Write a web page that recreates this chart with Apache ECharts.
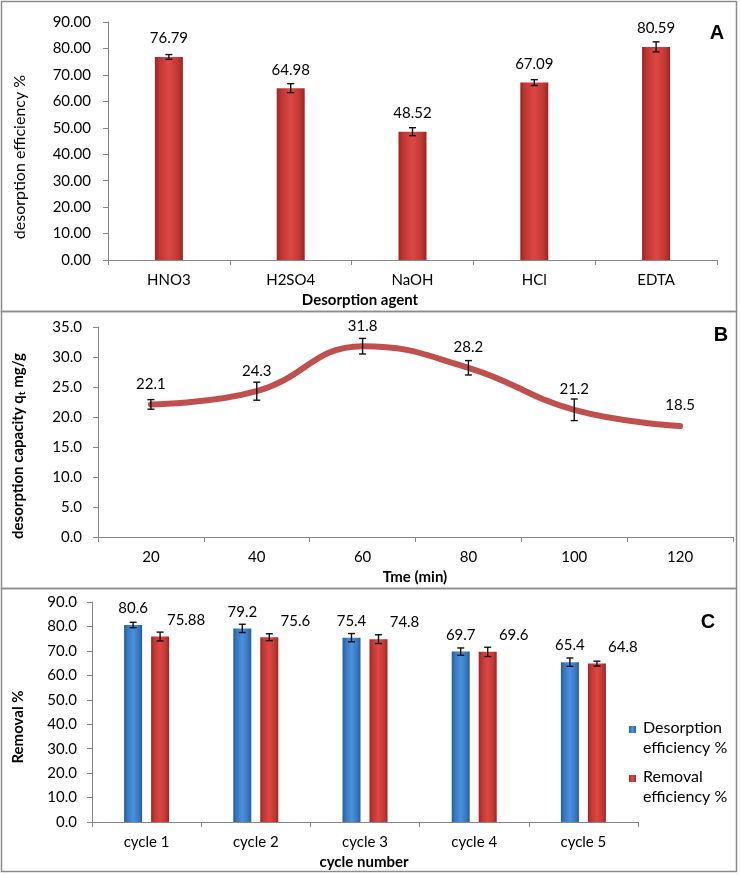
<!DOCTYPE html>
<html><head><meta charset="utf-8">
<script src="https://cdn.jsdelivr.net/npm/echarts@6/dist/echarts.min.js"></script>
<style>html,body{margin:0;padding:0;background:#fff}#c{width:740px;height:875px}</style>
</head><body><div id="c"></div>
<script>
// Panel A
const agentCategories = ['HNO3', 'H2SO4', 'NaOH', 'HCl', 'EDTA'];
const agentEfficiency = [76.79, 64.98, 48.52, 67.09, 80.59];
const agentError = [0.9, 1.7, 1.5, 1.1, 1.9];
// Panel B
const timeCategories = ['20', '40', '60', '80', '100', '120'];
const capacity = [22.1, 24.3, 31.8, 28.2, 21.2, 18.5];
const capacityError = [0.8, 1.5, 1.3, 1.2, 1.8, 0];
// Panel C
const cycleCategories = ['cycle 1', 'cycle 2', 'cycle 3', 'cycle 4', 'cycle 5'];
const desorptionEff = [80.6, 79.2, 75.4, 69.7, 65.4];
const desorptionErr = [1.1, 1.7, 1.7, 1.5, 1.7];
const removalEff = [75.88, 75.6, 74.8, 69.6, 64.8];
const removalErr = [1.8, 1.4, 1.8, 1.9, 1.0];
const seriesNames = ['Desorption efficiency %', 'Removal efficiency %'];

const FONT = 'Lato';
const AX = '#868686';
const C_BAR_W = 18;

function redGrad() {
  return new echarts.graphic.LinearGradient(0, 0, 1, 0, [
    {offset: 0, color: '#9A2523'}, {offset: 0.18, color: '#C23733'},
    {offset: 0.5, color: '#DB4844'}, {offset: 0.82, color: '#C23733'}, {offset: 1, color: '#9A2523'}]);
}
function blueGrad() {
  return new echarts.graphic.LinearGradient(0, 0, 1, 0, [
    {offset: 0, color: '#265D9C'}, {offset: 0.18, color: '#3777C0'},
    {offset: 0.5, color: '#4C91DC'}, {offset: 0.82, color: '#3777C0'}, {offset: 1, color: '#265D9C'}]);
}

function errSeries(xi, yi, vals, errs, offset) {
  return {
    type: 'custom', xAxisIndex: xi, yAxisIndex: yi, z: 10, silent: true,
    data: vals.map((v, i) => [i, v, errs[i]]),
    renderItem: function (params, api) {
      const i = api.value(0), v = api.value(1), e = api.value(2);
      if (!e) return null;
      const t = api.coord([i, v + e]), b = api.coord([i, v - e]);
      const x = t[0] + offset;
      const st = {stroke: '#111', lineWidth: 1.4};
      return {type: 'group', children: [
        {type: 'line', shape: {x1: x, y1: t[1], x2: x, y2: b[1]}, style: st},
        {type: 'line', shape: {x1: x - 3.5, y1: t[1], x2: x + 3.5, y2: t[1]}, style: st},
        {type: 'line', shape: {x1: x - 3.5, y1: b[1], x2: x + 3.5, y2: b[1]}, style: st}
      ]};
    }
  };
}

function yAx(gi, max, interval, dec, margin) {
  return {
    gridIndex: gi, type: 'value', min: 0, max: max, interval: interval,
    axisLine: {show: true, lineStyle: {color: AX}},
    axisTick: {show: true, length: 5, lineStyle: {color: AX}},
    splitLine: {show: false},
    axisLabel: {color: '#000', fontFamily: FONT, fontSize: 15, margin: margin,
      formatter: v => v.toFixed(dec)}
  };
}
function xAx(gi, cats) {
  return {
    gridIndex: gi, type: 'category', data: cats,
    axisLine: {show: true, lineStyle: {color: AX}},
    axisTick: {show: true, length: 5, lineStyle: {color: AX}},
    axisLabel: {color: '#000', fontFamily: FONT, fontSize: 15, margin: 13, interval: 0}
  };
}
const lbl = {show: true, position: 'top', color: '#000', fontFamily: FONT, fontSize: 15, distance: 11};
const legendText = {fontFamily: FONT, fontSize: 16, lineHeight: 20, fill: '#000', verticalAlign: 'top'};

const chart = echarts.init(document.getElementById('c'), null, {renderer: 'canvas'});
chart.setOption({
  animation: false,
  backgroundColor: '#fff',
  grid: [
    {left: 108, top: 22, width: 609, height: 238},
    {left: 98, top: 327, width: 635, height: 210},
    {left: 92, top: 602, width: 546, height: 220}
  ],
  xAxis: [xAx(0, agentCategories), xAx(1, timeCategories), xAx(2, cycleCategories)],
  yAxis: [yAx(0, 90, 10, 2, 17), yAx(1, 35, 5, 1, 16), yAx(2, 90, 10, 1, 15)],
  series: [
    {type: 'bar', xAxisIndex: 0, yAxisIndex: 0, data: agentEfficiency, barWidth: 28,
      itemStyle: {color: redGrad()}, label: lbl},
    errSeries(0, 0, agentEfficiency, agentError, 0),
    {type: 'line', xAxisIndex: 1, yAxisIndex: 1, data: capacity, smooth: 0.45,
      symbol: 'circle', symbolSize: 2, itemStyle: {color: '#C0504D'},
      lineStyle: {color: '#C0504D', width: 6, cap: 'round'},
      label: Object.assign({}, lbl, {distance: 12})},
    errSeries(1, 1, capacity, capacityError, 0),
    {name: seriesNames[0], type: 'bar', xAxisIndex: 2, yAxisIndex: 2, data: desorptionEff,
      barWidth: C_BAR_W, barGap: '50%', itemStyle: {color: blueGrad()},
      label: Object.assign({}, lbl, {distance: 9})},
    {name: seriesNames[1], type: 'bar', xAxisIndex: 2, yAxisIndex: 2, data: removalEff,
      barWidth: C_BAR_W, barGap: '50%', itemStyle: {color: redGrad()},
      label: Object.assign({}, lbl, {distance: 9, offset: [26, 0]})},
    errSeries(2, 2, desorptionEff, desorptionErr, -C_BAR_W * 0.75),
    errSeries(2, 2, removalEff, removalErr, C_BAR_W * 0.75)
  ],
  graphic: [
    {type: 'rect', shape: {x: 1.5, y: 1.5, width: 735, height: 310}, style: {fill: 'none', stroke: '#8c8c8c', lineWidth: 1.5}, silent: true},
    {type: 'rect', shape: {x: 1.5, y: 311.5, width: 735, height: 277}, style: {fill: 'none', stroke: '#8c8c8c', lineWidth: 1.5}, silent: true},
    {type: 'rect', shape: {x: 1.5, y: 588.5, width: 735, height: 283}, style: {fill: 'none', stroke: '#8c8c8c', lineWidth: 1.5}, silent: true},
    // legend (panel C)
    {type: 'rect', shape: {x: 629, y: 726, width: 7, height: 7}, style: {fill: blueGrad()}},
    {type: 'text', x: 643, y: 718, style: Object.assign({text: 'Desorption\nefficiency %'}, legendText)},
    {type: 'rect', shape: {x: 629, y: 775, width: 7, height: 7}, style: {fill: redGrad()}},
    {type: 'text', x: 643, y: 767, style: Object.assign({text: 'Removal\nefficiency %'}, legendText)},
    // axis titles
    {type: 'text', x: 20, y: 157, rotation: Math.PI / 2, style: {text: 'desorption efficiency %', fontFamily: FONT, fontSize: 16, fill: '#000', align: 'center', verticalAlign: 'middle'}},
    {type: 'text', x: 18, y: 446, rotation: Math.PI / 2, style: {
      text: '{a|desorption capacity q}{s|t}{a| mg/g}', align: 'center', verticalAlign: 'middle',
      rich: {a: {fontFamily: FONT, fontSize: 15, fontWeight: 'bold', fill: '#000'},
             s: {fontFamily: FONT, fontSize: 10, fontWeight: 'bold', fill: '#000', padding: [8, 0, 0, 0]}}}},
    {type: 'text', x: 18, y: 727, rotation: Math.PI / 2, style: {text: 'Removal %', fontFamily: FONT, fontSize: 15, fontWeight: 'bold', fill: '#000', align: 'center', verticalAlign: 'middle'}},
    {type: 'text', x: 360, y: 300, style: {text: 'Desorption agent', fontFamily: FONT, fontSize: 15, fontWeight: 'bold', fill: '#000', align: 'center', verticalAlign: 'middle'}},
    {type: 'text', x: 415, y: 577, style: {text: 'Tme (min)', fontFamily: FONT, fontSize: 15, fontWeight: 'bold', fill: '#000', align: 'center', verticalAlign: 'middle'}},
    {type: 'text', x: 364, y: 862, style: {text: 'cycle number', fontFamily: FONT, fontSize: 15, fontWeight: 'bold', fill: '#000', align: 'center', verticalAlign: 'middle'}},
    {type: 'text', x: 717, y: 33, style: {text: 'A', fontFamily: 'Liberation Sans', fontSize: 20, fontWeight: 'bold', fill: '#000', align: 'center', verticalAlign: 'middle'}},
    {type: 'text', x: 721, y: 335, style: {text: 'B', fontFamily: 'Liberation Sans', fontSize: 20, fontWeight: 'bold', fill: '#000', align: 'center', verticalAlign: 'middle'}},
    {type: 'text', x: 708, y: 622, style: {text: 'C', fontFamily: 'Liberation Sans', fontSize: 20, fontWeight: 'bold', fill: '#000', align: 'center', verticalAlign: 'middle'}}
  ]
});
</script></body></html>
